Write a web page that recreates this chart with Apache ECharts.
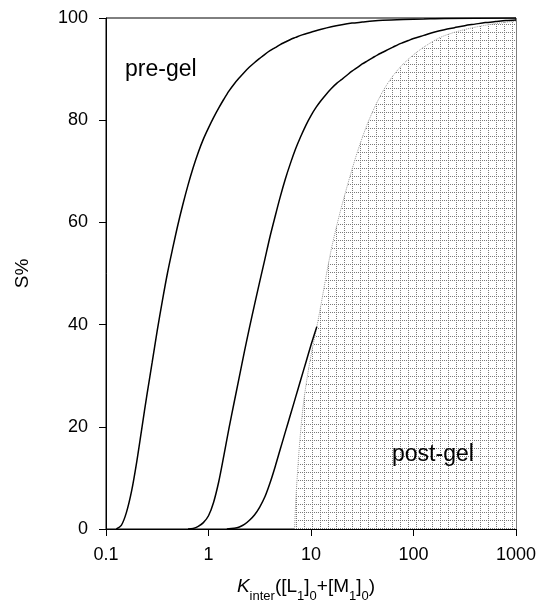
<!DOCTYPE html>
<html>
<head>
<meta charset="utf-8">
<script src="https://cdn.jsdelivr.net/npm/echarts@6/dist/echarts.min.js"></script>
<style>html,body{margin:0;padding:0;background:#fff;}#c{width:540px;height:616px;}</style>
</head>
<body>
<div id="c"></div>
<script>
// x tick labels (log axis)
const xTicks = [0.1, 1, 10, 100, 1000];
const yTicks = [0, 20, 40, 60, 80, 100];

// curve 1 [x, S%]
const curve1 = [[0.126,0],[0.141,0.7],[0.158,3.2],[0.178,7.5],[0.2,13.3],[0.224,19.8],[0.251,26.3],[0.282,32.6],[0.316,38.8],[0.355,44.7],[0.398,50.1],[0.447,54.9],[0.501,59.4],[0.562,63.5],[0.631,67.3],[0.708,70.7],[0.794,73.7],[0.891,76.3],[1,78.5],[1.12,80.5],[1.26,82.4],[1.41,84.1],[1.58,85.7],[1.78,87.1],[2.0,88.3],[2.24,89.4],[2.51,90.4],[2.82,91.3],[3.16,92.1],[3.55,92.9],[3.98,93.6],[4.47,94.2],[5.01,94.8],[5.62,95.3],[6.31,95.8],[7.08,96.2],[7.94,96.6],[8.91,96.9],[10,97.2],[12.6,97.8],[15.8,98.3],[20,98.7],[25.1,99.0],[31.6,99.2],[39.8,99.4],[50.1,99.55],[79.4,99.7],[126,99.8],[200,99.9],[1000,100]];
// curve 2
const curve2 = [[0.631,0],[0.708,0.1],[0.794,0.5],[0.891,1.25],[1,2.6],[1.12,5.2],[1.26,9.3],[1.41,14.3],[1.58,19.6],[1.78,24.8],[2.0,29.8],[2.24,34.7],[2.51,39.4],[2.82,44.0],[3.16,48.4],[3.55,52.8],[3.98,57.2],[4.47,61.2],[5.01,65.0],[5.62,68.5],[6.31,71.6],[7.08,74.4],[7.94,76.8],[8.91,79.0],[10,80.9],[11.2,82.5],[12.6,83.9],[14.1,85.1],[15.8,86.2],[17.8,87.2],[20,88.0],[22.4,88.8],[25.1,89.6],[28.2,90.3],[31.6,91.0],[35.5,91.6],[39.8,92.2],[44.7,92.8],[50.1,93.3],[56.2,93.8],[63.1,94.3],[70.8,94.8],[79.4,95.2],[89.1,95.6],[100,96.0],[126,96.6],[158,97.2],[200,97.7],[251,98.1],[316,98.5],[398,98.8],[501,99.1],[631,99.3],[794,99.5],[1000,99.6]];
// curve 3 (ends at the gel boundary)
const curve3 = [[1.51,0],[1.78,0.15],[2.0,0.4],[2.24,0.9],[2.51,1.7],[2.82,2.8],[3.16,4.3],[3.55,6.3],[3.98,9.0],[4.47,12.2],[5.01,15.6],[5.62,19.0],[6.31,22.4],[7.08,25.8],[7.94,29.2],[8.91,32.6],[10,36.0],[11.4,39.6]];
// gel boundary (post-gel region lies to its right)
const gelBoundary = [[6.92,0],[7.08,5],[7.33,10],[7.76,17],[8.32,23.5],[8.91,28],[10,34],[11.4,39.6],[12.7,44.6],[14.2,50.0],[15.8,54.8],[17.8,59.3],[20,63.3],[24,69.0],[28.8,74.2],[34.9,78.9],[41.7,82.5],[50.7,85.8],[63.1,88.7],[79.4,91.0],[100,92.8],[126,94.3],[178,96.1],[251,97.2],[398,98.2],[631,98.9],[1000,99.4]];

function makePattern() {
  const c = document.createElement('canvas');
  c.width = 8; c.height = 8;
  const g = c.getContext('2d');
  g.fillStyle = '#ffffff'; g.fillRect(0, 0, 8, 8);
  g.fillStyle = '#7a7a7a';
  for (let i = 0; i < 8; i += 2) { g.fillRect(i, 0, 1, 1); g.fillRect(0, i, 1, 1); }
  return c;
}

const FONT = "'Liberation Sans', Arial, sans-serif";
const chart = echarts.init(document.getElementById('c'), null, {renderer: 'canvas'});
const lineStyle = {color: '#000', width: 1.5};
const curveBase = {type: 'line', symbol: 'none', smooth: 0.3, lineStyle: lineStyle, z: 3};
chart.setOption({
  animation: false,
  backgroundColor: '#fff',
  grid: {left: 106, right: 24, top: 18, bottom: 87, show: true, borderColor: '#000', borderWidth: 1},
  xAxis: {
    type: 'log', logBase: 10, min: xTicks[0], max: xTicks[xTicks.length - 1],
    axisLine: {lineStyle: {color: '#000', width: 1}},
    axisTick: {show: true, inside: false, length: 7, lineStyle: {color: '#000'}},
    minorTick: {show: false},
    splitLine: {show: false},
    axisLabel: {color: '#000', fontSize: 18, fontFamily: FONT, margin: 17,
      formatter: v => { const r = xTicks.find(t => Math.abs(Math.log10(t) - Math.log10(v)) < 1e-6); return r !== undefined ? String(r) : ''; }},
    name: '{k|K}{sub|inter}{n|([L}{sub|1}{n|]}{sub|0}{n|+[M}{sub|1}{n|]}{sub|0}{n|)}',
    nameLocation: 'middle', nameGap: 48,
    nameTextStyle: {
      color: '#000', fontFamily: FONT, padding: [0, 10, 0, 0],
      rich: {
        k: {fontSize: 19, fontStyle: 'italic', fontFamily: FONT, color: '#000', lineHeight: 26, verticalAlign: 'top'},
        n: {fontSize: 19, fontFamily: FONT, color: '#000', lineHeight: 26, verticalAlign: 'top'},
        sub: {fontSize: 13, fontFamily: FONT, color: '#000', lineHeight: 14, verticalAlign: 'bottom'}
      }
    }
  },
  yAxis: {
    type: 'value', min: yTicks[0], max: yTicks[yTicks.length - 1], interval: 20,
    axisLine: {show: true, lineStyle: {color: '#000', width: 1}},
    axisTick: {show: true, inside: false, length: 7, lineStyle: {color: '#000'}},
    splitLine: {show: false},
    axisLabel: {color: '#000', fontSize: 18, fontFamily: FONT, margin: 18},
    name: 'S%', nameLocation: 'middle', nameGap: 74,
    nameTextStyle: {color: '#000', fontSize: 19, fontFamily: FONT}
  },
  series: [
    {type: 'line', data: gelBoundary, symbol: 'none', smooth: 0.3, z: 1,
      lineStyle: {color: '#999', width: 1, type: 'dotted'},
      areaStyle: {color: {image: makePattern(), repeat: 'repeat'}, opacity: 1}},
    Object.assign({data: curve1}, curveBase),
    Object.assign({data: curve2}, curveBase),
    Object.assign({data: curve3}, curveBase)
  ],
  graphic: [
    {type: 'text', left: 125, top: 58, style: {text: 'pre-gel', fontSize: 23, fontFamily: FONT, fill: '#000'}, z: 10},
    {type: 'text', left: 392, top: 443, style: {text: 'post-gel', fontSize: 23, fontFamily: FONT, fill: '#000'}, z: 10}
  ]
});
</script>
</body>
</html>
